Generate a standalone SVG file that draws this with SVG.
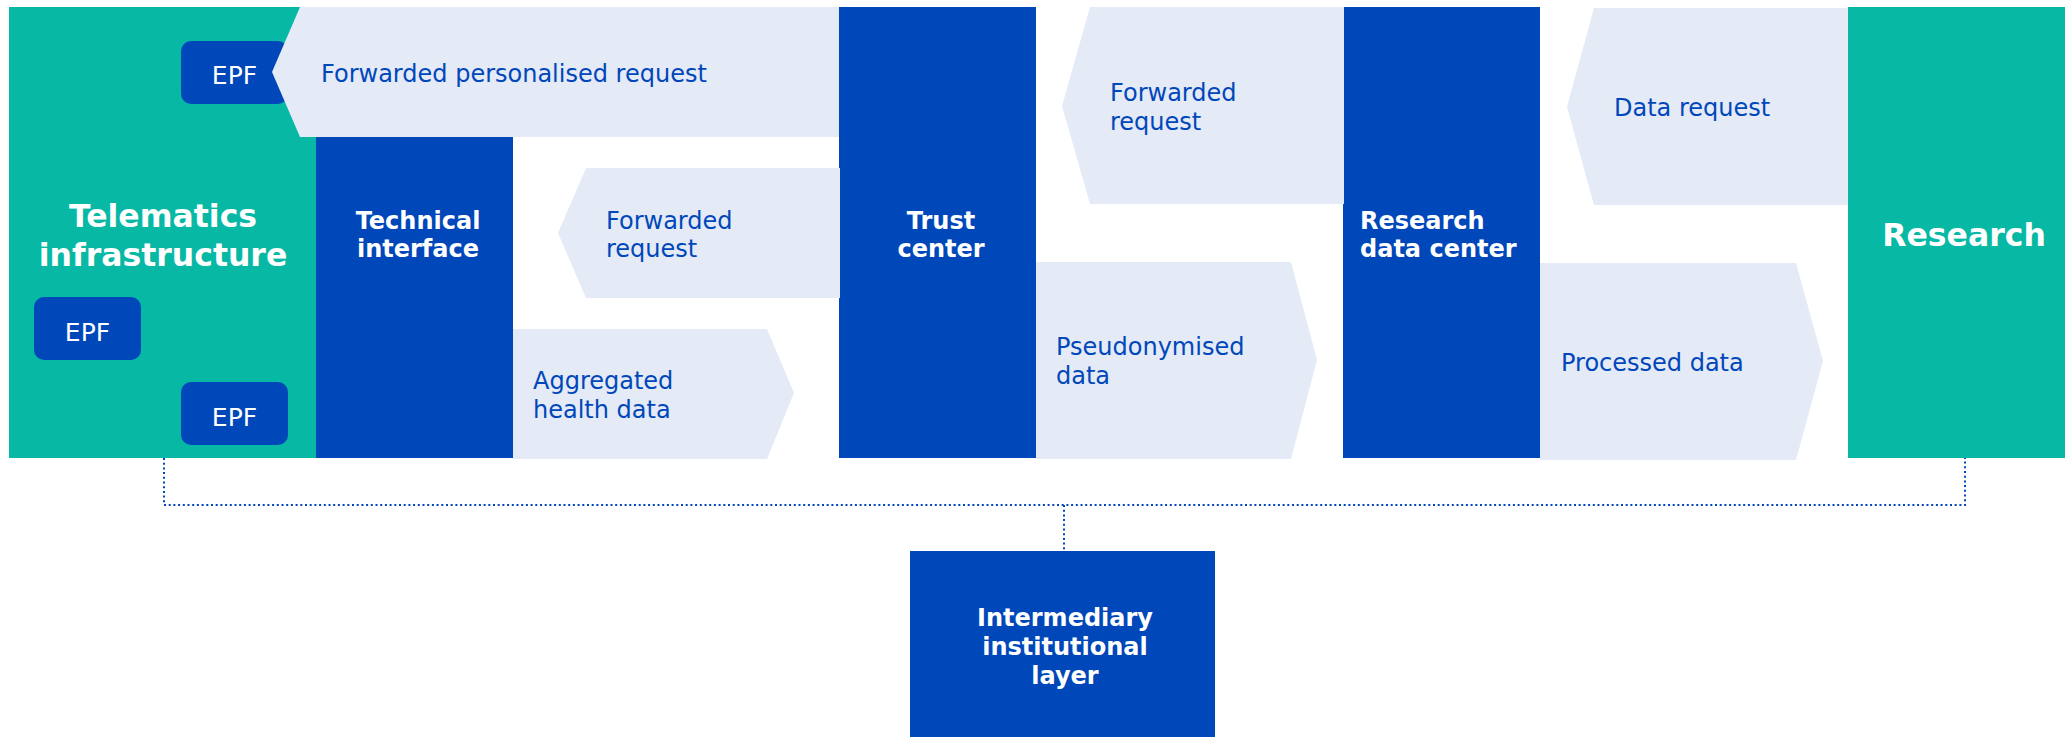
<svg xmlns="http://www.w3.org/2000/svg" width="2065" height="737" viewBox="0 0 2065 737">
<style>
.teal{fill:#07B8A4}
.blue{fill:#0047BA}
.flow{fill:#E4EAF6}
.lbl{font-family:"DejaVu Sans","Verdana",sans-serif;font-size:24px;fill:#0047BA}
.wb{font-family:"DejaVu Sans","Verdana",sans-serif;font-size:24px;font-weight:bold;fill:#FFFFFF}
.big{font-family:"DejaVu Sans","Verdana",sans-serif;font-size:31.5px;font-weight:bold;fill:#FFFFFF}
.epf{font-family:"DejaVu Sans","Verdana",sans-serif;font-size:25px;fill:#FFFFFF}
.dot{fill:none;stroke:#0047BA;stroke-width:2;stroke-dasharray:2 2.7}
</style>
<rect width="2065" height="737" fill="#FFFFFF"/>

<g id="telematics">
<rect class="teal" x="9" y="7" width="307" height="451"/>
<text class="big" text-anchor="middle"><tspan x="163" y="227">Telematics</tspan><tspan x="163" y="266">infrastructure</tspan></text>
</g>
<g id="epf1">
<rect class="blue" x="181" y="41" width="107" height="63" rx="10"/>
<text class="epf" x="234.5" y="84" text-anchor="middle">EPF</text>
</g>
<g id="epf2">
<rect class="blue" x="34" y="297" width="107" height="63" rx="10"/>
<text class="epf" x="87.5" y="341" text-anchor="middle">EPF</text>
</g>
<g id="epf3">
<rect class="blue" x="181" y="382" width="107" height="63" rx="10"/>
<text class="epf" x="234.5" y="426" text-anchor="middle">EPF</text>
</g>

<g id="technical-interface">
<rect class="blue" x="316" y="137" width="197" height="321"/>
<text class="wb" text-anchor="middle"><tspan x="418" y="229">Technical</tspan><tspan x="418" y="257">interface</tspan></text>
</g>

<g id="trust-center">
<rect class="blue" x="839" y="7" width="197" height="451"/>
<text class="wb" text-anchor="middle"><tspan x="941" y="229">Trust</tspan><tspan x="941" y="257">center</tspan></text>
</g>

<g id="research-data-center">
<rect class="blue" x="1343" y="7" width="197" height="451"/>
<text class="wb"><tspan x="1360" y="229">Research</tspan><tspan x="1360" y="257">data center</tspan></text>
</g>

<g id="research">
<rect class="teal" x="1848" y="7" width="217" height="451"/>
<text class="big" x="1964" y="246" text-anchor="middle">Research</text>
</g>

<g id="intermediary">
<rect class="blue" x="910" y="551" width="305" height="186"/>
<text class="wb" text-anchor="middle"><tspan x="1065" y="626">Intermediary</tspan><tspan x="1065" y="655">institutional</tspan><tspan x="1065" y="684">layer</tspan></text>
</g>

<g id="connectors">
<g id="flow-forwarded-personalised-request">
<polygon class="flow" points="300,7 839,7 839,137 300,137 272,72"/>
<text class="lbl" x="321" y="82">Forwarded personalised request</text>
</g>
<g id="flow-forwarded-request-1">
<polygon class="flow" points="586,168 840,168 840,298 586,298 558,233"/>
<text class="lbl"><tspan x="606" y="229">Forwarded</tspan><tspan x="606" y="257">request</tspan></text>
</g>
<g id="flow-aggregated">
<polygon class="flow" points="513,329 767,329 794,393 767,459 513,459"/>
<text class="lbl"><tspan x="533" y="389">Aggregated</tspan><tspan x="533" y="418">health data</tspan></text>
</g>
<g id="flow-forwarded-request-2">
<polygon class="flow" points="1090,7 1344,7 1344,204 1090,204 1062,106"/>
<text class="lbl"><tspan x="1110" y="101">Forwarded</tspan><tspan x="1110" y="130">request</tspan></text>
</g>
<g id="flow-pseudonymised">
<polygon class="flow" points="1036,262 1291,262 1317,360 1291,459 1036,459"/>
<text class="lbl"><tspan x="1056" y="355">Pseudonymised</tspan><tspan x="1056" y="384">data</tspan></text>
</g>
<g id="flow-data-request">
<polygon class="flow" points="1594,8 1848,8 1848,205 1594,205 1567,107"/>
<text class="lbl" x="1614" y="116">Data request</text>
</g>
<g id="flow-processed">
<polygon class="flow" points="1540,263 1796,263 1823,361 1796,460 1540,460"/>
<text class="lbl" x="1561" y="371">Processed data</text>
</g>
<path class="dot" d="M164,458 V505 H1965 V458"/>
<path class="dot" d="M1064,505 V551"/>
</g>
</svg>
